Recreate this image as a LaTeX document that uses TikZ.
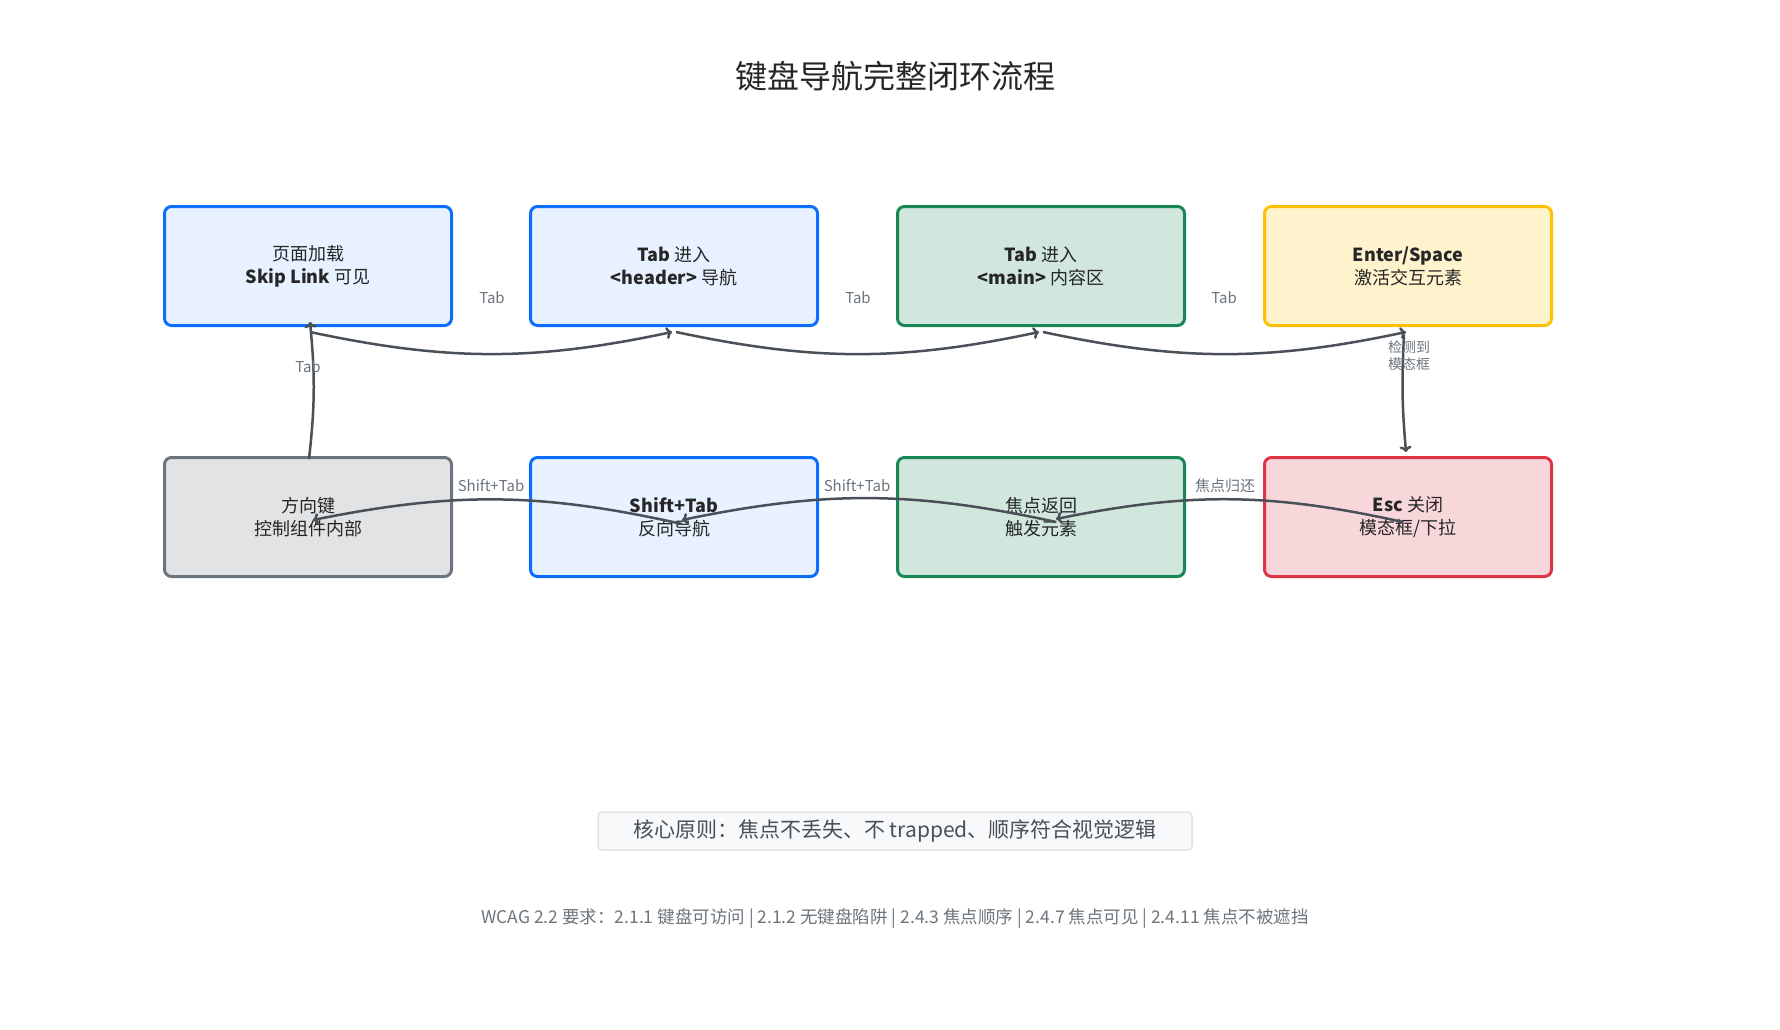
\documentclass[tikz,border=0pt]{standalone}
\usepackage{fontspec}
\setmainfont{Noto Sans CJK SC}
\usetikzlibrary{arrows.meta}
\definecolor{eg}{HTML}{495057}
\definecolor{lg}{HTML}{6C757D}
\tikzset{
 box/.style={draw, line width=3pt, rounded corners=7pt, minimum width=287pt, minimum height=119pt, align=center, font=\fontsize{18}{23}\selectfont, text=black!85},
 bl/.style={box, draw=blue!60!cyan!70!black, draw={rgb,255:red,13;green,110;blue,253}, fill={rgb,255:red,231;green,241;blue,255}},
 gr/.style={box, draw={rgb,255:red,25;green,135;blue,84}, fill={rgb,255:red,209;green,231;blue,221}},
 ye/.style={box, draw={rgb,255:red,255;green,193;blue,7}, fill={rgb,255:red,255;green,243;blue,205}},
 re/.style={box, draw={rgb,255:red,220;green,53;blue,69}, fill={rgb,255:red,248;green,215;blue,218}},
 gy/.style={box, draw=lg, fill={rgb,255:red,226;green,227;blue,229}},
 ed/.style={draw=eg, line width=2.5pt, -{Stealth[open,length=9pt,width=10pt,line width=2pt]}},
 ed/.style={draw=eg, line width=2.5pt, -{>[length=6pt,width=12pt,line width=2.5pt]}},
 lb/.style={text=lg, font=\fontsize{15}{18}\selectfont, align=center},
}
\begin{document}
\begin{tikzpicture}[x=1pt,y=-1pt]
\useasboundingbox (0,0) rectangle (1780,1030);
\node[font=\fontsize{32}{36}\selectfont, text=black!85] (title) at (895,76) {键盘导航完整闭环流程};
\node[bl] (a) at (308,266) {页面加载\\\textbf{Skip Link} 可见};
\node[bl] (b) at (674,266) {\textbf{Tab} 进入\\\textbf{<header>} 导航};
\node[gr] (c) at (1041,266) {\textbf{Tab} 进入\\\textbf{<main>} 内容区};
\node[ye] (d) at (1408,266) {\textbf{Enter/Space}\\激活交互元素};
\node[gy] (e) at (308,517) {方向键\\控制组件内部};
\node[bl] (f) at (674,517) {\textbf{Shift+Tab}\\反向导航};
\node[gr] (g) at (1041,517) {焦点返回\\触发元素};
\node[re] (h) at (1408,517) {\textbf{Esc} 关闭\\模态框/下拉};
\draw[ed] ([xshift=2pt,yshift=-5pt]a.south) to[bend right=12] ([xshift=-2pt,yshift=-5pt]b.south);
\draw[ed] ([xshift=2pt,yshift=-5pt]b.south) to[bend right=12] ([xshift=-2pt,yshift=-5pt]c.south);
\draw[ed] ([xshift=2pt,yshift=-5pt]c.south) to[bend right=12] ([xshift=-2pt,yshift=-5pt]d.south);
\node[lb] (l1) at (492,298) {Tab};
\node[lb] (l2) at (858,298) {Tab};
\node[lb] (l3) at (1224,298) {Tab};
\draw[ed] ([xshift=-4pt,yshift=-8pt]d.south) to[bend right=4] ([xshift=-2pt,yshift=4pt]h.north);
\node[lb, font=\fontsize{14}{17}\selectfont] (l4) at (1409,356) {检测到\\模态框};
\draw[ed] ([xshift=-5pt,yshift=-5pt]h.center) to[bend right=12] ([xshift=15pt,yshift=-2pt]g.center);
\draw[ed] ([xshift=15pt,yshift=-5pt]g.center) to[bend right=12] ([xshift=8pt,yshift=-3pt]f.center);
\draw[ed] ([xshift=8pt,yshift=-7pt]f.center) to[bend right=12] ([xshift=5pt,yshift=-3pt]e.center);
\node[lb] (l5) at (1225,486) {焦点归还};
\node[lb] (l6) at (857,486) {Shift+Tab};
\node[lb] (l7) at (491,486) {Shift+Tab};
\draw[ed] ([xshift=1pt,yshift=-3pt]e.north) to[bend right=6] ([xshift=2pt,yshift=5pt]a.south);
\node[lb] (l8) at (308,367) {Tab};
\node[draw={rgb,255:red,222;green,226;blue,230}, line width=1.5pt, fill={rgb,255:red,248;green,249;blue,250}, rounded corners=4pt, minimum width=594pt, minimum height=38pt, text=eg, font=\fontsize{21}{25}\selectfont] (core) at (895,831) {核心原则：焦点不丢失、不 trapped、顺序符合视觉逻辑};
\node[text=lg, font=\fontsize{17.5}{21}\selectfont] (foot) at (895,918) {WCAG 2.2 要求：2.1.1 键盘可访问 | 2.1.2 无键盘陷阱 | 2.4.3 焦点顺序 | 2.4.7 焦点可见 | 2.4.11 焦点不被遮挡};
\end{tikzpicture}
\end{document}
